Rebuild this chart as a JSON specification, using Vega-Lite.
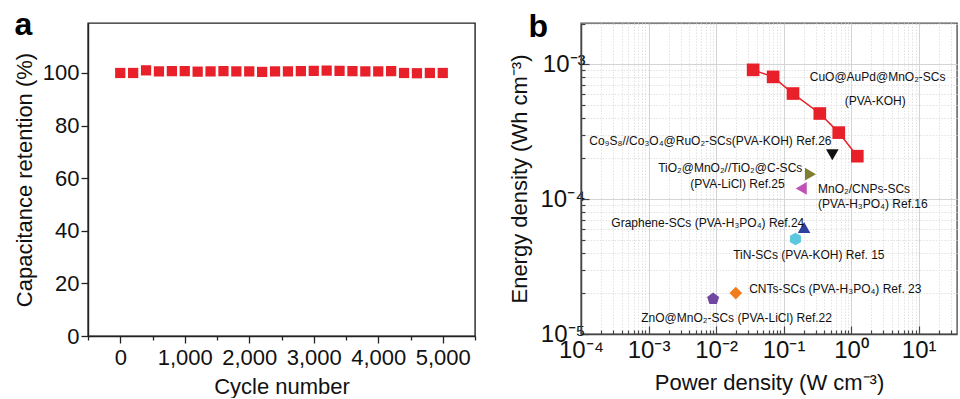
{
  "$schema": "https://vega.github.io/schema/vega-lite/v6.json",
  "background": "white",
  "padding": {"left": 12, "top": 7, "right": 0, "bottom": 0},
  "spacing": 31,
  "config": {
    "font": "Liberation Sans",
    "axis": {"labelFont": "Liberation Sans", "titleFont": "Liberation Sans", "titleFontWeight": "normal", "labelColor": "#111", "titleColor": "#111"}
  },
  "hconcat": [
    {
      "width": 387,
      "height": 313,
      "view": {"stroke": "#222", "strokeWidth": 1.4},
      "data": {"values": [
        {"cycle": 0, "ret": 100.0}, {"cycle": 200, "ret": 100.0}, {"cycle": 400, "ret": 101.0},
        {"cycle": 600, "ret": 100.6}, {"cycle": 800, "ret": 100.7}, {"cycle": 1000, "ret": 100.7},
        {"cycle": 1200, "ret": 100.5}, {"cycle": 1400, "ret": 100.6}, {"cycle": 1600, "ret": 100.7},
        {"cycle": 1800, "ret": 100.6}, {"cycle": 2000, "ret": 100.6}, {"cycle": 2200, "ret": 100.4},
        {"cycle": 2400, "ret": 100.6}, {"cycle": 2600, "ret": 100.6}, {"cycle": 2800, "ret": 100.7},
        {"cycle": 3000, "ret": 100.8}, {"cycle": 3200, "ret": 100.9}, {"cycle": 3400, "ret": 100.8},
        {"cycle": 3600, "ret": 100.7}, {"cycle": 3800, "ret": 100.6}, {"cycle": 4000, "ret": 100.6},
        {"cycle": 4200, "ret": 100.7}, {"cycle": 4400, "ret": 100.0}, {"cycle": 4600, "ret": 99.9},
        {"cycle": 4800, "ret": 100.0}, {"cycle": 5000, "ret": 100.0}
      ]},
      "resolve": {"axis": {"x": "independent"}},
      "layer": [
        {
          "mark": {"type": "square", "size": 105, "color": "#e8202a", "opacity": 1, "filled": true},
          "encoding": {
            "x": {"field": "cycle", "type": "quantitative",
              "scale": {"domain": [-500, 5500], "nice": false, "zero": false},
              "axis": {"orient": "bottom", "title": "Cycle number", "titleFontSize": 22, "titlePadding": 8, "labelFontSize": 22, "labelPadding": 4,
                "values": [-500, 0, 500, 1000, 1500, 2000, 2500, 3000, 3500, 4000, 4500, 5000, 5500],
                "labelExpr": "datum.value % 1000 == 0 && datum.value >= 0 ? format(datum.value, ',') : ''",
                "tickSize": {"condition": {"test": "datum.value % 1000 == 0", "value": 7}, "value": 4},
                "grid": false, "domainColor": "#222", "domainWidth": 1.4, "tickColor": "#222", "tickWidth": 1.3, "labelFlush": false, "labelOverlap": false}},
            "y": {"field": "ret", "type": "quantitative",
              "scale": {"domain": [0, 119], "nice": false},
              "axis": {"title": "Capacitance retention (%)", "titleFontSize": 22, "titlePadding": 6, "labelFontSize": 22, "labelPadding": 2,
                "values": [0, 10, 20, 30, 40, 50, 60, 70, 80, 90, 100, 110],
                "labelExpr": "datum.value % 20 == 0 ? datum.value : ''",
                "tickSize": {"condition": {"test": "datum.value % 20 == 0", "value": 7}, "value": 4},
                "grid": false, "domainColor": "#222", "domainWidth": 1.4, "tickColor": "#222", "tickWidth": 1.3, "labelOverlap": false}}
          }
        },
        {
          "mark": {"type": "square", "opacity": 0},
          "encoding": {
            "x": {"field": "cycle", "type": "quantitative",
              "axis": {"orient": "top", "title": "a", "titleFontSize": 32, "titleFontWeight": "bold", "titleColor": "#000",
                "titleX": -74, "titleY": 11, "titleAlign": "left", "titleBaseline": "alphabetic", "titleAngle": 0,
                "labels": false, "ticks": false, "domain": false, "grid": false}},
            "y": {"field": "ret", "type": "quantitative"}
          }
        }
      ]
    },
    {
      "width": 376,
      "height": 311,
      "view": {"stroke": "#555", "strokeWidth": 1.4},
      "resolve": {"axis": {"x": "independent"}},
      "layer": [
        {
          "data": {"values": [
            {"s": "CuO", "P": 0.0354, "E": 0.000908}, {"s": "CuO", "P": 0.070, "E": 0.000805},
            {"s": "CuO", "P": 0.138, "E": 0.000606}, {"s": "CuO", "P": 0.344, "E": 0.000431},
            {"s": "CuO", "P": 0.656, "E": 0.000311}, {"s": "CuO", "P": 1.236, "E": 0.000208}
          ]},
          "mark": {"type": "line", "color": "#e8202a", "strokeWidth": 1.5},
          "encoding": {
            "x": {"field": "P", "type": "quantitative", "scale": {"type": "log", "domain": [0.0001, 37], "nice": false},
              "axis": {"orient": "bottom", "title": "Power density (W cm⁻³)", "titleFontSize": 22, "titlePadding": 6, "labelFontSize": 24, "labelPadding": 12,
                "values": [0.0001,0.0002,0.0003,0.0004,0.0005,0.0006,0.0007,0.0008,0.0009,0.001,0.002,0.003,0.004,0.005,0.006,0.007,0.008,0.009,0.01,0.02,0.03,0.04,0.05,0.06,0.07,0.08,0.09,0.1,0.2,0.3,0.4,0.5,0.6,0.7,0.8,0.9,1,2,3,4,5,6,7,8,9,10,20,30],
                "labelExpr": "abs(log(datum.value)/LN10 - round(log(datum.value)/LN10)) < 0.01 ? '10' + (round(log(datum.value)/LN10) < 0 ? '⁻' : '') + ['⁰','¹','²','³','⁴','⁵'][abs(round(log(datum.value)/LN10))] : ''",
                "tickSize": {"condition": {"test": "abs(log(datum.value)/LN10 - round(log(datum.value)/LN10)) < 0.01", "value": -8}, "value": -4},
                "grid": true,
                "gridColor": {"condition": {"test": "abs(log(datum.value)/LN10 - round(log(datum.value)/LN10)) < 0.01", "value": "#d4d4d4"}, "value": "#e2e2e2"},
                "gridDash": {"condition": {"test": "abs(log(datum.value)/LN10 - round(log(datum.value)/LN10)) < 0.01", "value": []}, "value": [1.5, 1.5]},
                "gridWidth": 1,
                "domainColor": "#444", "domainWidth": 1.5, "tickColor": "#444", "tickWidth": 1.2, "labelOverlap": false, "labelFlush": false}},
            "y": {"field": "E", "type": "quantitative", "scale": {"type": "log", "domain": [0.00001, 0.00202], "nice": false},
              "axis": {"title": "Energy density (Wh cm⁻³)", "titleFontSize": 22, "titlePadding": 8, "labelFontSize": 24, "labelPadding": 4,
                "values": [0.00001,0.00002,0.00003,0.00004,0.00005,0.00006,0.00007,0.00008,0.00009,0.0001,0.0002,0.0003,0.0004,0.0005,0.0006,0.0007,0.0008,0.0009,0.001,0.002],
                "labelExpr": "abs(log(datum.value)/LN10 - round(log(datum.value)/LN10)) < 0.01 ? '10' + (round(log(datum.value)/LN10) < 0 ? '⁻' : '') + ['⁰','¹','²','³','⁴','⁵'][abs(round(log(datum.value)/LN10))] : ''",
                "tickSize": {"condition": {"test": "abs(log(datum.value)/LN10 - round(log(datum.value)/LN10)) < 0.01", "value": -8}, "value": -4},
                "grid": true,
                "gridColor": {"condition": {"test": "abs(log(datum.value)/LN10 - round(log(datum.value)/LN10)) < 0.01", "value": "#d4d4d4"}, "value": "#e2e2e2"},
                "gridDash": {"condition": {"test": "abs(log(datum.value)/LN10 - round(log(datum.value)/LN10)) < 0.01", "value": []}, "value": [1.5, 1.5]},
                "gridWidth": 1,
                "domainColor": "#444", "domainWidth": 1.5, "tickColor": "#444", "tickWidth": 1.2, "labelOverlap": false}}
          }
        },
        {
          "data": {"values": [
            {"s": "CuO", "P": 0.0354, "E": 0.000908}, {"s": "CuO", "P": 0.070, "E": 0.000805},
            {"s": "CuO", "P": 0.138, "E": 0.000606}, {"s": "CuO", "P": 0.344, "E": 0.000431},
            {"s": "CuO", "P": 0.656, "E": 0.000311}, {"s": "CuO", "P": 1.236, "E": 0.000208},
            {"s": "Co9S8", "P": 0.527, "E": 0.000213},
            {"s": "TiO2", "P": 0.25, "E": 0.000153},
            {"s": "MnO2", "P": 0.183, "E": 0.000120},
            {"s": "Graphene", "P": 0.201, "E": 0.0000616},
            {"s": "TiN", "P": 0.150, "E": 0.0000506},
            {"s": "CNTs", "P": 0.0196, "E": 0.0000201},
            {"s": "ZnO", "P": 0.00906, "E": 0.0000182}
          ]},
          "mark": {"type": "point", "filled": true, "opacity": 1, "size": 160},
          "encoding": {
            "x": {"field": "P", "type": "quantitative",
              "axis": {"orient": "top", "title": "b", "titleFontSize": 32, "titleFontWeight": "bold", "titleColor": "#000",
                "titleX": -53, "titleY": 13, "titleAlign": "left", "titleBaseline": "alphabetic", "titleAngle": 0,
                "labels": false, "ticks": false, "domain": false, "grid": false}},
            "y": {"field": "E", "type": "quantitative"},
            "color": {"field": "s", "type": "nominal", "legend": null,
              "scale": {"domain": ["CuO", "Co9S8", "TiO2", "MnO2", "Graphene", "TiN", "CNTs", "ZnO"],
                "range": ["#e8202a", "#111111", "#7f7f30", "#c04fb6", "#2f3f9f", "#5cc8e0", "#f07c1c", "#7046a0"]}},
            "shape": {"field": "s", "type": "nominal", "legend": null,
              "scale": {"domain": ["CuO", "Co9S8", "TiO2", "MnO2", "Graphene", "TiN", "CNTs", "ZnO"],
                "range": ["square", "triangle-down", "triangle-right", "triangle-left", "triangle-up",
                  "M0,-1L0.866,-0.5L0.866,0.5L0,1L-0.866,0.5L-0.866,-0.5Z", "diamond",
                  "M0,-1L0.951,-0.309L0.588,0.809L-0.588,0.809L-0.951,-0.309Z"]}}
          }
        },
        {
          "data": {"values": [
            {"t": "CuO@AuPd@MnO₂-SCs", "P": 0.244, "E": 0.000805},
            {"t": "(PVA-KOH)", "P": 0.803, "E": 0.000535},
            {"t": "Co₉S₈//Co₃O₄@RuO₂-SCs(PVA-KOH) Ref.26", "P": 0.000133, "E": 0.000270},
            {"t": "TiO₂@MnO₂//TiO₂@C-SCs", "P": 0.00139, "E": 0.000171},
            {"t": "(PVA-LiCl) Ref.25", "P": 0.00414, "E": 0.000130},
            {"t": "MnO₂/CNPs-SCs", "P": 0.324, "E": 0.000119},
            {"t": "(PVA-H₃PO₄) Ref.16", "P": 0.324, "E": 0.0000923},
            {"t": "Graphene-SCs (PVA-H₃PO₄) Ref.24", "P": 0.000281, "E": 0.0000667},
            {"t": "TiN-SCs (PVA-KOH) Ref. 15", "P": 0.0179, "E": 0.0000387},
            {"t": "CNTs-SCs (PVA-H₃PO₄) Ref. 23", "P": 0.0309, "E": 0.0000217},
            {"t": "ZnO@MnO₂-SCs (PVA-LiCl) Ref.22", "P": 0.00078, "E": 0.0000132}
          ]},
          "mark": {"type": "text", "align": "left", "baseline": "middle", "fontSize": 12, "color": "#111"},
          "encoding": {
            "x": {"field": "P", "type": "quantitative", "axis": null},
            "y": {"field": "E", "type": "quantitative"},
            "text": {"field": "t"}
          }
        }
      ]
    }
  ]
}
